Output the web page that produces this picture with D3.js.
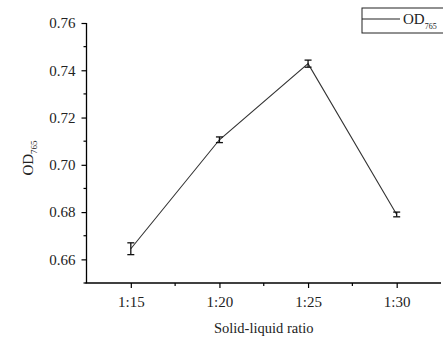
<!DOCTYPE html>
<html>
<head>
<meta charset="utf-8">
<script src="https://cdn.jsdelivr.net/npm/d3@7"></script>
<style>
  body { margin: 0; background: #fff; }
  svg { display: block; }
  svg text { font-family: "Liberation Serif", "DejaVu Serif", serif; }
</style>
</head>
<body>
<svg id="chart" width="443" height="343"></svg>
<script>
// 数据
const categories = ['1:15', '1:20', '1:25', '1:30'];
const odValues = [0.6645, 0.7106, 0.7428, 0.6790];
const odErrors = [0.0025, 0.0012, 0.0015, 0.0010];
const yTicks = [0.66, 0.68, 0.70, 0.72, 0.74, 0.76];
const yMinor = [0.65, 0.67, 0.69, 0.71, 0.73, 0.75];

const svg = d3.select('#chart');
const mLeft = 86.5, mRight = 441, mTop = 23, mBottom = 283;

let x = d3.scalePoint().domain(categories).range([mLeft, mRight]).padding(0.5);
let y = d3.scaleLinear().domain([0.65, 0.76]).range([mBottom, mTop]);

let data = categories.map((c, i) => ({name: c, v: odValues[i], e: odErrors[i]}));

/*y轴*/
let yAxis = svg.append('g')
  .attr('transform', `translate(${mLeft},0)`)
  .call(d3.axisLeft(y).tickValues(yTicks).tickFormat(d3.format('.2f')).tickSize(5).tickPadding(6));
yAxis.select('.domain').attr('stroke-width', 1.3).attr('d', `M0,${mTop}V${mBottom}`);
yAxis.selectAll('.tick line').attr('stroke-width', 1.2);
yAxis.selectAll('.tick text').style('font-size', '15px').attr('fill', '#222');
yAxis.append('g').selectAll('line')
  .data(yMinor).enter().append('line')
  .attr('x1', -3).attr('x2', 0)
  .attr('y1', d => y(d)).attr('y2', d => y(d))
  .attr('stroke', '#000').attr('stroke-width', 1.2);

/*x轴*/
let step = x.step();
let xAxis = svg.append('g')
  .attr('transform', `translate(0,${mBottom})`)
  .call(d3.axisBottom(x).tickSize(5).tickPadding(8));
xAxis.select('.domain').attr('stroke-width', 1.3).attr('d', `M${mLeft - 1},0H${mRight}`);
xAxis.selectAll('.tick line').attr('stroke-width', 1.2);
xAxis.selectAll('.tick text').style('font-size', '15px').attr('fill', '#222');
xAxis.append('g').selectAll('line')
  .data(categories.slice(0, -1)).enter().append('line')
  .attr('x1', d => x(d) + step / 2).attr('x2', d => x(d) + step / 2)
  .attr('y1', 0).attr('y2', 3)
  .attr('stroke', '#000').attr('stroke-width', 1.2);

/*折线*/
let line = d3.line().x(d => x(d.name)).y(d => y(d.v));
svg.append('path')
  .datum(data)
  .attr('d', line)
  .attr('fill', 'none')
  .attr('stroke', '#333')
  .attr('stroke-width', 1.1);

/*误差线*/
let eb = svg.append('g').attr('stroke', '#111').attr('stroke-width', 1.3);
data.forEach(d => {
  let cx = x(d.name), y1 = y(d.v - d.e), y2 = y(d.v + d.e);
  eb.append('line').attr('x1', cx).attr('x2', cx).attr('y1', y1).attr('y2', y2);
  eb.append('line').attr('x1', cx - 3.5).attr('x2', cx + 3.5).attr('y1', y1).attr('y2', y1);
  eb.append('line').attr('x1', cx - 3.5).attr('x2', cx + 3.5).attr('y1', y2).attr('y2', y2);
});

/*坐标轴标题*/
svg.append('text')
  .attr('x', (mLeft + mRight) / 2).attr('y', 333)
  .attr('text-anchor', 'middle')
  .style('font-size', '14.5px').attr('fill', '#222')
  .text('Solid-liquid ratio');

let yl = svg.append('text')
  .attr('transform', `translate(33,158) rotate(-90)`)
  .attr('text-anchor', 'middle')
  .style('font-size', '15px').attr('fill', '#222');
yl.append('tspan').text('OD');
yl.append('tspan').attr('dy', 4).style('font-size', '9px').text('765');

/*图例*/
let lg = svg.append('g');
lg.append('rect')
  .attr('x', 362).attr('y', 8).attr('width', 90).attr('height', 25)
  .attr('fill', '#fff').attr('stroke', '#222').attr('stroke-width', 1);
lg.append('line')
  .attr('x1', 362).attr('x2', 400).attr('y1', 19).attr('y2', 19)
  .attr('stroke', '#222').attr('stroke-width', 1.1);
let lt = lg.append('text')
  .attr('x', 403).attr('y', 24)
  .style('font-size', '15px').attr('fill', '#222');
lt.append('tspan').text('OD');
lt.append('tspan').attr('dy', 5).style('font-size', '8px').text('765');
</script>
</body>
</html>
